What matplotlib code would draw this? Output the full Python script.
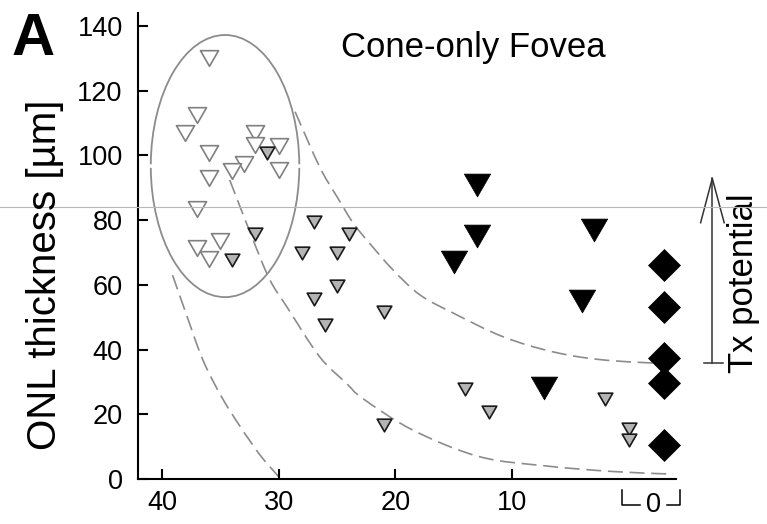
import numpy as np
import matplotlib
matplotlib.use("Agg")
import matplotlib.pyplot as plt
from matplotlib.path import Path
from matplotlib.patches import PathPatch, Arc
from matplotlib.lines import Line2D

plt.rcParams['font.family'] = ['Liberation Sans', 'DejaVu Sans']

# open triangles (inside the ellipse)
open_x = [36, 37, 38, 32, 32, 30, 36, 33, 34, 30, 36, 37, 37, 35, 36]
open_y = [130.0, 112.5, 106.8, 106.8, 103.2, 102.9, 100.8, 97.2, 95.2, 95.5, 93.1, 83.4, 71.5, 73.6, 67.9]

# small gray triangles
gray_x = [31, 34, 32, 27, 28, 27, 24, 25, 25, 26, 21, 21, 14, 12, 2, 0, 0]
gray_y = [100.6, 67.7, 75.6, 79.5, 69.7, 55.6, 75.6, 69.7, 59.6, 47.6, 51.7, 16.7, 27.7, 20.6, 24.6, 15.4, 12.1]

# big black triangles
black_x = [13, 13, 15, 3, 4, 7.3]
black_y = [90.9, 75.1, 67.0, 76.9, 55.1, 28.0]

# cone-only fovea group, drawn at the "0" bracket
diamond_y = [66.1, 53.2, 37.3, 29.6, 10.5]

# dashed guide curves
upper_x = [28.6, 26.5, 25.0, 23.6, 22.2, 20.2, 17.9, 15.0, 10.8, 6.5, 2.2, -3.8]
upper_y = [113.5, 96.5, 87.2, 79.0, 72.8, 64.6, 56.9, 51.2, 44.0, 39.3, 36.8, 35.5]
mid_x = [34.2, 32.2, 30.75, 29.3, 26.5, 24.2, 22.8, 18.5, 12.8, 7.0, 1.3, -3.8]
mid_y = [92.4, 73.9, 61.5, 53.2, 37.8, 29.6, 24.9, 15.1, 6.9, 4.0, 2.3, 1.5]
left_x = [39.1, 37.9, 36.5, 34.9, 33.3, 31.6, 30.0]
left_y = [63.0, 50.7, 36.8, 25.4, 16.2, 7.4, 0.7]

xticks = [40, 30, 20, 10]
yticks = [0, 20, 40, 60, 80, 100, 120, 140]

FOVEA_POS = -3.0
GUIDE = '#8c8c8c'


def smooth_path(xs, ys):
    # catmull-rom through the points, as bezier segments
    pts = np.column_stack([xs, ys]).astype(float)
    ext = np.vstack([2 * pts[0] - pts[1], pts, 2 * pts[-1] - pts[-2]])
    verts = [pts[0]]
    codes = [Path.MOVETO]
    for i in range(1, len(ext) - 2):
        p0, p1, p2, p3 = ext[i - 1], ext[i], ext[i + 1], ext[i + 2]
        verts += [p1 + (p2 - p0) / 6, p2 - (p3 - p1) / 6, p2]
        codes += [Path.CURVE4] * 3
    return Path(verts, codes)


tri_down = Path([(-1, 0.866), (1, 0.866), (0, -0.866), (-1, 0.866)],
                [Path.MOVETO, Path.LINETO, Path.LINETO, Path.CLOSEPOLY])

W, H = 767, 524
fig = plt.figure(figsize=(W / 100, H / 100), dpi=100)
ax = fig.add_axes([138 / W, 1 - 479 / H, (676 - 138) / W, (479 - 13) / H])
ax.set_xlim(42.06, -4.05)
ax.set_ylim(0, 144)

for s in ['top', 'right']:
    ax.spines[s].set_visible(False)
for s in ['left', 'bottom']:
    ax.spines[s].set_linewidth(1.5)

ax.set_xticks(xticks)
ax.set_xticklabels([str(t) for t in xticks])
ax.set_yticks(yticks)
ax.tick_params(direction='in', length=7, width=1.5, labelsize=19.5)
ax.tick_params(axis='y', pad=11)
ax.tick_params(axis='x', pad=8)

# ellipse round the open group (two arcs with small gaps at the sides)
for t1, t2 in [(5, 175), (185, 355)]:
    ax.add_patch(Arc((34.6, 96.7), 12.73, 81.0, theta1=t1, theta2=t2,
                     color=GUIDE, lw=1.3))

for xs, ys in [(upper_x, upper_y), (mid_x, mid_y), (left_x, left_y)]:
    ax.add_patch(PathPatch(smooth_path(xs, ys), fill=False, ec=GUIDE, lw=1.2,
                           ls=(0, (9, 4)), capstyle='butt'))

ax.plot(open_x, open_y, ls='none', marker=tri_down, ms=13, mfc='white',
        mec='#808080', mew=1.2, zorder=3)
ax.plot(gray_x, gray_y, ls='none', marker=tri_down, ms=10.5, mfc='#b4b4b4',
        mec='#1a1a1a', mew=1.2, zorder=4)
ax.plot(black_x, black_y, ls='none', marker=tri_down, ms=19, mfc='black',
        mec='black', mew=0.5, zorder=4)
ax.plot([FOVEA_POS] * len(diamond_y), diamond_y, ls='none', marker='D', ms=16.5,
        mfc='black', mec='black', mew=0.5, zorder=4, clip_on=False)

# "0" label with bracket under the fovea group
ax.text(-2.16, -8.0, '0', fontsize=19.5, ha='center', va='center', clip_on=False)
ax.plot([0.61, 0.61, -0.96], [-3.4, -8.0, -8.0], color='black', lw=1.1, clip_on=False)
ax.plot([-3.25, -4.39, -4.39], [-8.0, -8.0, -3.4], color='black', lw=1.1, clip_on=False)

# Tx potential arrow
arr = '#333333'
ax.plot([-7.16, -7.16], [35.75, 92.9], color=arr, lw=1.1, clip_on=False)
ax.plot([-6.44, -8.05], [35.75, 35.75], color=arr, lw=1.1, clip_on=False)
ax.plot([-6.16, -7.16, -8.18], [79.2, 92.9, 79.2], color=arr, lw=1.1, clip_on=False)
ax.text(-9.8, 60.6, 'Tx potential', rotation=90, fontsize=25, ha='center',
        va='center', clip_on=False)

fig.text(45 / W, 1 - 275 / H, 'ONL thickness [µm]', rotation=90, fontsize=29,
         ha='center', va='center')
fig.text(473 / W, 1 - 57 / H, 'Cone-only Fovea', fontsize=25, ha='center', va='baseline')
fig.text(12 / W, 1 - 55 / H, 'A', fontsize=43, weight='bold', ha='left', va='baseline')

fig.add_artist(Line2D([0, 1], [1 - 207 / H] * 2, transform=fig.transFigure,
                      color='#b8b8b8', lw=0.8))

fig.savefig('out.png', dpi=100)
